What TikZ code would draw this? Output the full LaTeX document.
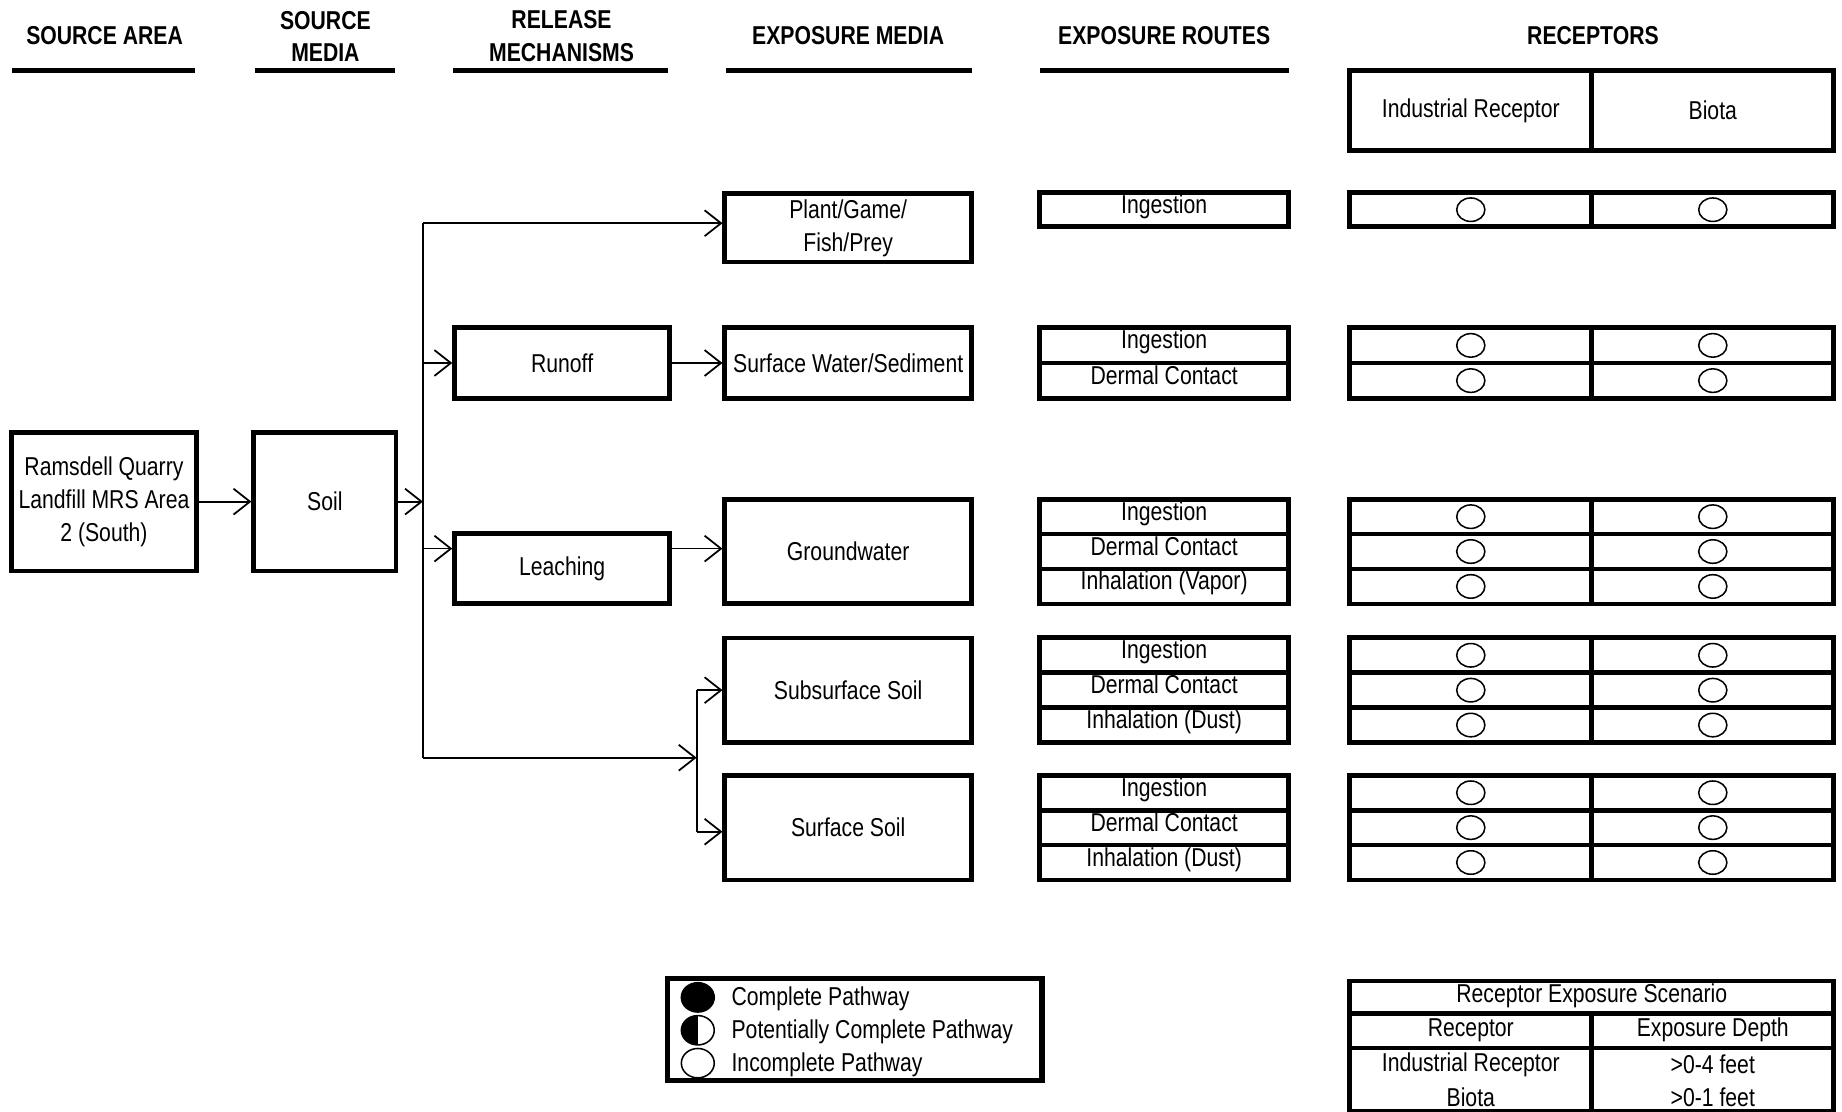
\documentclass[tikz,border=0pt]{standalone}
\usepackage{fontspec}
\setmainfont{Liberation Sans}[FakeStretch=0.82]
\usetikzlibrary{arrows.meta,shapes.geometric}

\tikzset{
  box/.style={draw, line width=4pt, align=center, inner sep=0pt},
  media/.style={box, minimum width=210pt, minimum height=89pt},
  route/.style={box, minimum width=212pt, text height=16pt, text depth=10pt},
  cell/.style={box, minimum width=206pt},
  rcell/.style={cell, path picture={
      \draw[line width=1.3pt] (path picture bounding box.center)
        ellipse [x radius=12pt, y radius=10pt];}},
  hdr/.style={font=\fontsize{22}{28}\selectfont\bfseries, align=center},
  rule/.style={line width=5pt},
  pathopen/.style={draw, ellipse, line width=1.3pt, inner sep=0pt,
    minimum width=28pt, minimum height=25pt},
  pathfull/.style={pathopen, fill=black},
  pathhalf/.style={pathopen, path picture={
      \fill (path picture bounding box.south west)
        rectangle (path picture bounding box.north);}},
  legtext/.style={anchor=west, inner sep=0pt}
}

\begin{document}
\begin{tikzpicture}[x=1pt, y=-1pt, font=\fontsize{22}{28}\selectfont,
    line width=1.5pt, >={Straight Barb[length=14pt, width=22pt]}]
    \useasboundingbox (0,0) rectangle (1568,946);
    % Column headings
    \node[hdr] (hd-area) at (89,30) {SOURCE AREA};
    \node[hdr] (hd-smedia) at (277,31) {SOURCE\\MEDIA};
    \node[hdr] (hd-release) at (478,31) {RELEASE\\MECHANISMS};
    \node[hdr] (hd-emedia) at (722,30) {EXPOSURE MEDIA};
    \node[hdr] (hd-routes) at (991,30) {EXPOSURE ROUTES};
    \node[hdr] (hd-recep) at (1356,30) {RECEPTORS};
    \draw[rule] (10,60) -- (166,60);
    \draw[rule] (217,60) -- (336,60);
    \draw[rule] (386,60) -- (569,60);
    \draw[rule] (618,60) -- (827,60);
    \draw[rule] (885,60) -- (1097,60);
    \node[cell, minimum height=68pt] (hd-ir) at (1252,94) {Industrial Receptor};
    \node[cell, minimum height=68pt] (hd-bi) at (1458,94) {Biota};

    % Source area, source media, release mechanisms
    \node[box, minimum width=157pt, minimum height=118pt] (area) at (88.5,427)
        {Ramsdell Quarry\\Landfill MRS Area\\2 (South)};
    \node[box, minimum width=121pt, minimum height=118pt] (soil) at (276.5,427) {Soil};
    \node[box, minimum width=183pt, minimum height=60pt] (runoff) at (478.5,309) {Runoff};
    \node[box, minimum width=183pt, minimum height=60pt] (leach) at (478.5,484) {Leaching};

    % Exposure media
    \node[media, minimum height=58pt] (plant) at (722,194) {Plant/Game/\\Fish/Prey};
    \node[media, minimum height=60pt] (water) at (722,309) {Surface Water/Sediment};
    \node[media] (gw) at (722,469.5) {Groundwater};
    \node[media] (subsoil) at (722,587.5) {Subsurface Soil};
    \node[media] (surfsoil) at (722,704.5) {Surface Soil};

    % Connectors
    \coordinate (tr-top) at (360,190);
    \coordinate (tr-run) at (360,309);
    \coordinate (tr-soil) at (360,427);
    \coordinate (tr-leach) at (360,467);
    \coordinate (tr-bot) at (360,645);
    \coordinate (sp-mid) at (593,645);
    \coordinate (sp-top) at (593,587.5);
    \coordinate (sp-bot) at (593,708);
    \draw[->] (area) -- (soil);
    \draw[->] (soil) -- (tr-soil);
    \draw (tr-top) -- (tr-bot);
    \draw[->] (tr-top) -- (tr-top -| plant.west);
    \draw[->] (tr-run) -- (runoff);
    \draw[->] (runoff) -- (water);
    \draw[->] (tr-leach) -- (tr-leach -| leach.west);
    \draw[->] (tr-leach -| leach.east) -- (tr-leach -| gw.west);
    \draw[->] (tr-bot) -- (sp-mid);
    \draw (sp-top) -- (sp-bot);
    \draw[->] (sp-top) -- (subsoil);
    \draw[->] (sp-bot) -- (sp-bot -| surfsoil.west);

    % Exposure routes and receptors: plant/game/fish/prey
    \node[route, minimum height=29pt] (plant-ing) at (991,178.5) {Ingestion};
    \node[rcell, minimum height=29pt] (plant-ing-ir) at (1252,178.5) {};
    \node[rcell, minimum height=29pt] (plant-ing-bi) at (1458,178.5) {};
    % surface water/sediment
    \node[route, minimum height=30pt] (water-ing) at (991,294) {Ingestion};
    \node[route, minimum height=30pt] (water-der) at (991,324) {Dermal Contact};
    \node[rcell, minimum height=30pt] (water-ing-ir) at (1252,294) {};
    \node[rcell, minimum height=30pt] (water-ing-bi) at (1458,294) {};
    \node[rcell, minimum height=30pt] (water-der-ir) at (1252,324) {};
    \node[rcell, minimum height=30pt] (water-der-bi) at (1458,324) {};
    % groundwater
    \node[route, minimum height=29.7pt] (gw-ing) at (991,439.8) {Ingestion};
    \node[route, minimum height=29.7pt] (gw-der) at (991,469.5) {Dermal Contact};
    \node[route, minimum height=29.7pt] (gw-inh) at (991,499.2) {Inhalation (Vapor)};
    \node[rcell, minimum height=29.7pt] (gw-ing-ir) at (1252,439.8) {};
    \node[rcell, minimum height=29.7pt] (gw-ing-bi) at (1458,439.8) {};
    \node[rcell, minimum height=29.7pt] (gw-der-ir) at (1252,469.5) {};
    \node[rcell, minimum height=29.7pt] (gw-der-bi) at (1458,469.5) {};
    \node[rcell, minimum height=29.7pt] (gw-inh-ir) at (1252,499.2) {};
    \node[rcell, minimum height=29.7pt] (gw-inh-bi) at (1458,499.2) {};
    % subsurface soil
    \node[route, minimum height=29.7pt] (sub-ing) at (991,557.8) {Ingestion};
    \node[route, minimum height=29.7pt] (sub-der) at (991,587.5) {Dermal Contact};
    \node[route, minimum height=29.7pt] (sub-inh) at (991,617.2) {Inhalation (Dust)};
    \node[rcell, minimum height=29.7pt] (sub-ing-ir) at (1252,557.8) {};
    \node[rcell, minimum height=29.7pt] (sub-ing-bi) at (1458,557.8) {};
    \node[rcell, minimum height=29.7pt] (sub-der-ir) at (1252,587.5) {};
    \node[rcell, minimum height=29.7pt] (sub-der-bi) at (1458,587.5) {};
    \node[rcell, minimum height=29.7pt] (sub-inh-ir) at (1252,617.2) {};
    \node[rcell, minimum height=29.7pt] (sub-inh-bi) at (1458,617.2) {};
    % surface soil
    \node[route, minimum height=29.7pt] (surf-ing) at (991,674.8) {Ingestion};
    \node[route, minimum height=29.7pt] (surf-der) at (991,704.5) {Dermal Contact};
    \node[route, minimum height=29.7pt] (surf-inh) at (991,734.2) {Inhalation (Dust)};
    \node[rcell, minimum height=29.7pt] (surf-ing-ir) at (1252,674.8) {};
    \node[rcell, minimum height=29.7pt] (surf-ing-bi) at (1458,674.8) {};
    \node[rcell, minimum height=29.7pt] (surf-der-ir) at (1252,704.5) {};
    \node[rcell, minimum height=29.7pt] (surf-der-bi) at (1458,704.5) {};
    \node[rcell, minimum height=29.7pt] (surf-inh-ir) at (1252,734.2) {};
    \node[rcell, minimum height=29.7pt] (surf-inh-bi) at (1458,734.2) {};

    % Legend
    \node[box, line width=4.5pt, minimum width=319pt, minimum height=87pt] (legend) at (727.5,876.5) {};
    \node[pathfull] (lg-full) at (594,849) {};
    \node[pathhalf] (lg-half) at (594,877) {};
    \node[pathopen] (lg-open) at (594,905) {};
    \node[legtext] (lg-full-txt) at (622,850) {Complete Pathway};
    \node[legtext] (lg-half-txt) at (622,878) {Potentially Complete Pathway};
    \node[legtext] (lg-open-txt) at (622,906) {Incomplete Pathway};

    % Receptor exposure scenario
    \draw[line width=4pt] (1149,835) rectangle (1561,946);
    \draw[line width=4pt] (1149,863) -- (1561,863);
    \draw[line width=4pt] (1149,892) -- (1561,892);
    \draw[line width=4pt] (1355,863) -- (1355,946);
    \node (sc-title) at (1355,848) {Receptor Exposure Scenario};
    \node (sc-rec) at (1252,877) {Receptor};
    \node (sc-depth) at (1458,877) {Exposure Depth};
    \node (sc-ir) at (1252,906) {Industrial Receptor};
    \node (sc-bi) at (1252,934) {Biota};
    \node (sc-ir-d) at (1458,906) {>0-4 feet};
    \node (sc-bi-d) at (1458,934) {>0-1 feet};
\end{tikzpicture}
\end{document}
